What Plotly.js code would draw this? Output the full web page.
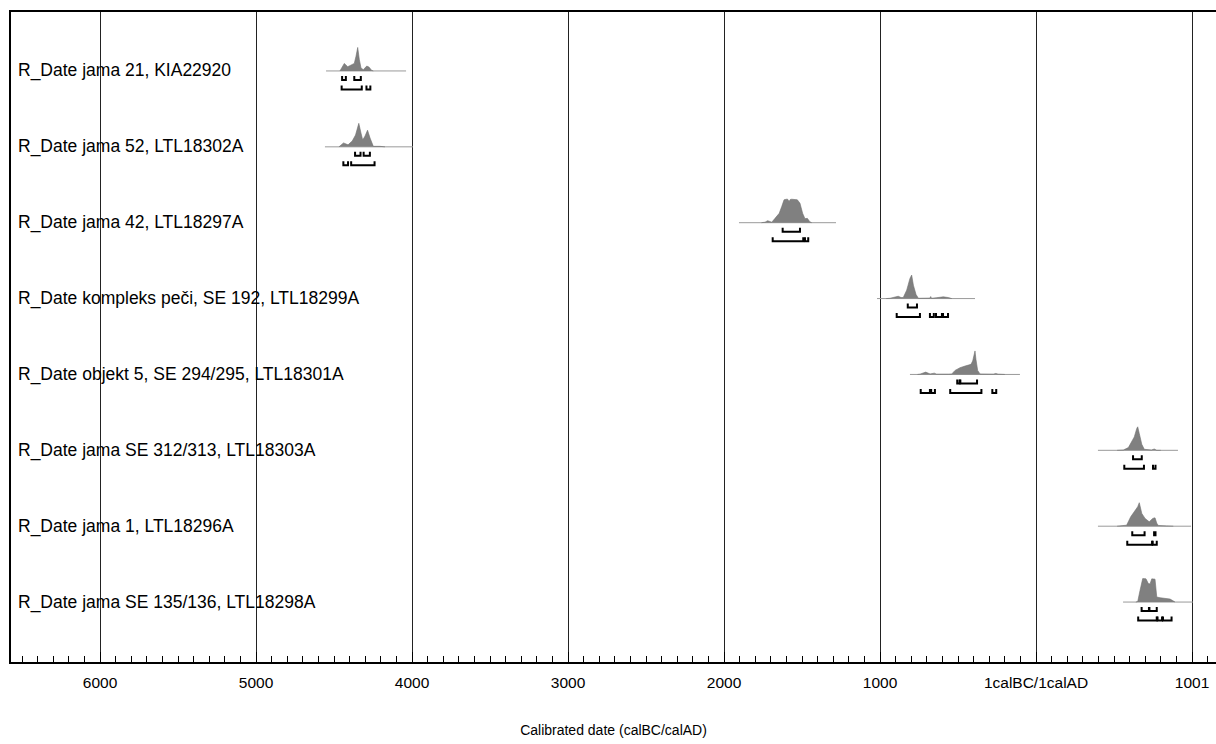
<!DOCTYPE html>
<html><head><meta charset="utf-8">
<script src="https://cdn.plot.ly/plotly-3.0.1.min.js"></script>
<style>html,body{margin:0;padding:0;background:#fff}</style>
</head><body>
<div id="chart" style="width:1216px;height:744px"></div>
<script>
// ---- data (calendar years: BC negative, AD positive) ----
const labels = [
  "R_Date jama 21, KIA22920",
  "R_Date jama 52, LTL18302A",
  "R_Date jama 42, LTL18297A",
  "R_Date kompleks peči, SE 192, LTL18299A",
  "R_Date objekt 5, SE 294/295, LTL18301A",
  "R_Date jama SE 312/313, LTL18303A",
  "R_Date jama 1, LTL18296A",
  "R_Date jama SE 135/136, LTL18298A"
];
const distYears = [
  [-4462,-4448,-4434,-4412,-4386,-4370,-4359,-4348,-4338,-4327,-4312,-4290,-4276,-4258,-4248],
  [-4468,-4439,-4410,-4383,-4362,-4341,-4327,-4316,-4301,-4285,-4269,-4248,-4205,-4173],
  [-1760,-1737,-1720,-1694,-1673,-1646,-1630,-1615,-1600,-1592,-1583,-1575,-1566,-1550,-1530,-1513,-1496,-1481,-1466,-1450,-1438],
  [-960,-936,-883,-865,-851,-829,-808,-797,-786,-769,-754,-700,-680,-675,-670,-640,-626,-594,-562,-540],
  [-760,-744,-707,-679,-652,-637,-560,-540,-519,-487,-455,-434,-417,-406,-396,-391,-385,-374,-359,-300,-274,-258,-242,-200],
  [520,560,592,613,630,646,652,662,678,694,720,740,758,774,800],
  [520,549,581,607,635,652,662,678,699,726,748,763,774,784,838,880],
  [640,652,667,684,705,720,731,742,763,774,795,827,859,876,891]
];
const distProb = [
  [0,4,7.7,4.3,6.7,7.7,15,24,12,3,1.3,5,4,0.5,0],
  [0,4,2,6,12,24,14,7,11,17,9,0.5,0.5,0],
  [0,0.5,2,0.5,4.3,9.3,16,22.7,23.3,23.3,21,23,23.3,23,22.7,19.3,9.3,4,4.3,1,0],
  [0,0.3,2.3,1,1,8.3,20,23.3,13.3,4,0.3,0.3,0.5,2,0.3,0.8,1.3,1.7,1,0],
  [0,0.3,2.3,0.5,1.3,0.3,0.3,0.5,4,6.7,8.3,9.3,10,13.3,21.7,23.3,15,4,0.5,0.3,0.3,1,0.3,0],
  [0,0.3,2.7,8.3,13.3,21.7,23.3,16.7,6,1,0.2,0.3,1.3,0,0],
  [0,0.2,1,9.3,16,19.3,23.3,12.7,7.7,4.3,7.7,8.3,3,0.7,0.3,0],
  [0,0.5,11.7,23.3,23,18.3,18,23,22.7,5,4.3,3.7,3,1.5,0]
];
const priorRange = [
  [-4551,-4038],[-4558,-3994],[-1904,-1282],[-1019,-391],
  [-808,-103],[397,910],[397,994],[558,1006]
];
const range68 = [
  [[-4448,-4424],[-4370,-4328]],
  [[-4365,-4330],[-4310,-4270]],
  [[-1624,-1513]],
  [[-822,-763]],
  [[-505,-490],[-485,-378]],
  [[622,678]],
  [[617,696],[757,766]],
  [[677,724],[727,774]]
];
const range95 = [
  [[-4451,-4322],[-4292,-4267]],
  [[-4440,-4410],[-4390,-4240]],
  [[-1688,-1492],[-1481,-1460]],
  [[-893,-744],[-680,-655],[-641,-603],[-596,-564]],
  [[-739,-680],[-672,-648],[-550,-350],[-280,-255]],
  [[566,692],[750,766]],
  [[585,744],[748,774]],
  [[655,774],[779,808],[814,869]]
];
const tickVals = [-6000,-5000,-4000,-3000,-2000,-1000,0,1000];
const tickText = ["6000","5000","4000","3000","2000","1000","1calBC/1calAD","1001"];

// ---- drawing ----
const ROW = 75.9;            // px per row
const PEAK = 23.5 / ROW;     // peak height in row units
const traces = [];
labels.forEach((lab, i) => {
  traces.push({x: priorRange[i], y: [i, i], mode: 'lines', type: 'scatter',
    line: {color: '#9a9a9a', width: 1}, hoverinfo: 'skip', showlegend: false});
  const mx = Math.max(...distProb[i]);
  const xs = distYears[i].slice();
  const ys = distProb[i].map(v => i - v / mx * PEAK);
  traces.push({x: xs, y: ys, mode: 'lines', type: 'scatter', fill: 'toself',
    fillcolor: '#808080', line: {color: '#707070', width: 0.6},
    hoverinfo: 'skip', showlegend: false});
  const br = (ranges, top, bot) => {
    const bx = [], by = [];
    ranges.forEach(r => {
      bx.push(r[0], r[0], r[1], r[1], null);
      by.push(i + top / ROW, i + bot / ROW, i + bot / ROW, i + top / ROW, null);
    });
    traces.push({x: bx, y: by, mode: 'lines', type: 'scatter',
      line: {color: '#000', width: 2}, hoverinfo: 'skip', showlegend: false});
  };
  br(range68[i], 5, 9);
  br(range95[i], 14.5, 18.5);
});

const annotations = labels.map((lab, i) => ({
  text: lab, xref: 'paper', yref: 'y', x: 5 / 1205, y: i,
  xanchor: 'left', yanchor: 'middle', showarrow: false,
  font: {family: 'Liberation Sans, Arial, sans-serif', size: 17.5, color: '#000'}
}));

const layout = {
  width: 1216, height: 744,
  margin: {l: 11, r: 0, t: 12, b: 82},
  paper_bgcolor: '#fff', plot_bgcolor: '#fff',
  showlegend: false,
  xaxis: {
    range: [-6570.5, 1153.8], autorange: false,
    tickmode: 'array', tickvals: tickVals, ticktext: tickText,
    showgrid: true, gridcolor: '#222', gridwidth: 1,
    showline: true, linecolor: '#000', linewidth: 2, mirror: true,
    ticks: 'inside', ticklen: 10, tickcolor: '#000', tickwidth: 1,
    ticklabelstandoff: 5,
    minor: {tickmode: 'linear', tick0: 0, dtick: 100, ticks: 'inside', ticklen: 6, tickcolor: '#000', tickwidth: 1, showgrid: false},
    zeroline: false,
    tickfont: {family: 'Liberation Sans, Arial, sans-serif', size: 15.5, color: '#000'},
    title: {text: 'Calibrated date (calBC/calAD)', standoff: 36,
      font: {family: 'Liberation Sans, Arial, sans-serif', size: 14, color: '#000'}},
    fixedrange: true
  },
  yaxis: {
    range: [7.79, -0.777], autorange: false,
    showgrid: false, zeroline: false, showticklabels: false, ticks: '',
    showline: true, linecolor: '#000', linewidth: 2, mirror: false,
    fixedrange: true
  },
  annotations: annotations
};
Plotly.newPlot('chart', traces, layout, {displayModeBar: false, staticPlot: true});
</script>
</body></html>
